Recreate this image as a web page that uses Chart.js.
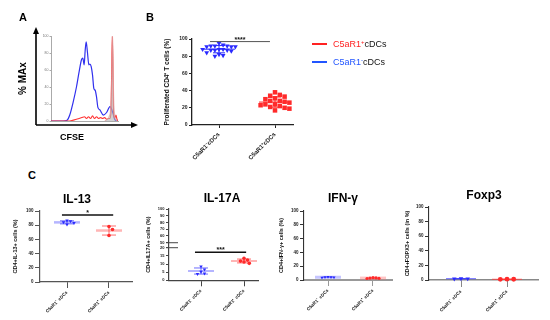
<!DOCTYPE html>
<html>
<head>
<meta charset="utf-8">
<script src="https://cdn.jsdelivr.net/npm/chart.js@4.4.1/dist/chart.umd.min.js"></script>
<style>
html,body{margin:0;padding:0;background:#fff;}
body{position:relative;width:550px;height:320px;overflow:hidden;font-family:"Liberation Sans",Arial,sans-serif;}
canvas{position:absolute;}
.lbl{position:absolute;white-space:nowrap;font-weight:bold;color:#000;transform:translate(-50%,-50%);line-height:1;z-index:5;}
.leg{position:absolute;white-space:nowrap;font-size:9px;color:#111;transform:translateY(-50%);line-height:1;z-index:5;}
.leg sup{font-size:6px;vertical-align:0;position:relative;top:-3px;}
.sw{position:absolute;height:2px;width:15px;z-index:5;}
</style>
</head>
<body>
<div class="lbl" style="left:23px;top:17px;font-size:11px">A</div>
<div class="lbl" style="left:150px;top:17px;font-size:11px">B</div>
<div class="lbl" style="left:32px;top:175px;font-size:11px">C</div>
<div class="lbl" style="left:72px;top:137px;font-size:9px">CFSE</div>
<div class="sw" style="left:312px;top:43px;background:#ff2222"></div>
<div class="leg" style="left:333px;top:44px"><span style="color:#ff2222">C5aR1<sup>+</sup></span>cDCs</div>
<div class="sw" style="left:312px;top:61px;background:#2255ff"></div>
<div class="leg" style="left:333px;top:62px"><span style="color:#2255ff">C5aR1<sup>-</sup></span>cDCs</div>
<div class="lbl" style="left:77px;top:199px;font-size:12px">IL-13</div>
<div class="lbl" style="left:222px;top:198px;font-size:12px">IL-17A</div>
<div class="lbl" style="left:343px;top:198px;font-size:12px">IFN-γ</div>
<div class="lbl" style="left:484px;top:195px;font-size:12px">Foxp3</div>
<script>
// ================= DATA =================
// Panel A: CFSE histograms (% of max)
const cfseBlue = [0,18,24,28,33,38,42,45.5,47.5,49.5,51,52.5,54.5,56.5,58,60,62,64,66,68,70,73,78,83,88,90,92.5,95,98,100];
const pctBlue  = [0,0,1,7,22,40,58,72,74,66,83,93,80,66,67,64,54,38,36,28,16,13,7,10,17,15,9,2,0,0];
const cfseRed  = [0,28,33,38,42,46,50,53,56,59,62,65,68,71,74,77,80,83,86,88,89.5,90.5,91.5,92.3,93,94,95.5,97,98.5,100];
const pctRed   = [0,0,1,2,3,4,5,3,5,3,6,3,5,3,4,3,4,2,3,3,10,55,99,70,20,5,4,7,2,0];
const cfseGray = [80,84,87,89,90.5,91.5,92.5,93.5,95,97,99];
const pctGray  = [0,2,6,15,50,100,85,30,8,2,0];
const histTicks = [0,20,40,60,80,100];

// Panel B: proliferated CD4+ T cells (%)
const groupsB = ['C5aR1⁻cDCs','C5aR1⁺cDCs'];
const prolifNeg = [95,93,92,92,91,91,92,91,88,87,88,87,86,88,87,84,82,80,81];
const prolifPos = [38,31,35,34,33,28,27,30,28,24,26,24,21,22,20,17,19,23];
const ticksB = [0,20,40,60,80,100];

// Panel C
const groupsC = ['C5aR1⁻ cDCs','C5aR1⁺ cDCs'];
const il13Neg = [86.5,85.5,84,83,81];
const il13Pos = [78,74,65.5];
const il17Neg = [8.4,6.7,5.3,3.9,4.2];
const il17Pos = [13.5,12.4,11.8,11.2,10.4];
const ifnNeg  = [4.5,4,3.8,4.2,3.5];
const ifnPos  = [3,2.5,2.2,2.8,3.3];
const foxNeg  = [1.8,1.6,1.9];
const foxPos  = [1.0,0.9,1.1];
const ticksC  = [0,20,40,60,80,100];
const ticksIL17 = [0,5,10,15,20,50,60,70,80,90,100];

// ================= SETUP =================
Chart.defaults.font.family = '"Liberation Sans", Arial, sans-serif';
Chart.defaults.color = '#111';
const BLUE = '#2a2aff', RED = '#ff2a2a';
const common = {responsive:false, animation:false, devicePixelRatio:1, events:[],
  plugins:{legend:{display:false}, tooltip:{enabled:false}, title:{display:false}}};

class BrokenScale extends Chart.LinearScale {
  getPixelForValue(v) {
    if (v === null || v === undefined || isNaN(v)) return NaN;
    const o = this.options.brk;
    let d;
    if (v <= o.lo) d = (v - this.min) / (o.lo - this.min) * o.f1;
    else if (v >= o.hi) d = o.f2 + (v - o.hi) / (this.max - o.hi) * (1 - o.f2);
    else d = o.f1 + (v - o.lo) / (o.hi - o.lo) * (o.f2 - o.f1);
    return this.getPixelForDecimal(d);
  }
  getValueForPixel(p) {
    const d = this.getDecimalForPixel(p), o = this.options.brk;
    if (d <= o.f1) return this.min + d / o.f1 * (o.lo - this.min);
    if (d >= o.f2) return o.hi + (d - o.f2) / (1 - o.f2) * (this.max - o.hi);
    return o.lo + (d - o.f1) / (o.f2 - o.f1) * (o.hi - o.lo);
  }
}
BrokenScale.id = 'broken';
BrokenScale.defaults = {};
Chart.register(BrokenScale);

function addCanvas(b) {
  const c = document.createElement('canvas');
  c.width = b.w; c.height = b.h;
  c.style.left = b.x + 'px'; c.style.top = b.y + 'px';
  c.style.width = b.w + 'px'; c.style.height = b.h + 'px';
  document.body.insertBefore(c, document.body.firstChild);
  return c;
}
const mean = a => a.reduce((s, v) => s + v, 0) / a.length;
const sdev = a => { const m = mean(a); return Math.sqrt(a.reduce((s, v) => s + (v - m) * (v - m), 0) / (a.length - 1)); };

// deterministic beeswarm spread of points around a category
function swarm(vals, cat, pxX, pxY, d) {
  const idx = vals.map((v, i) => i).sort((a, b) => vals[b] - vals[a]);
  const placed = [], out = new Array(vals.length), step = d / 2;
  idx.forEach(i => {
    const yp = vals[i] * pxY;
    let off = 0;
    for (let k = 0; k < 80; k++) {
      const cands = k === 0 ? [0] : [k * step, -k * step];
      let ok = null;
      for (const c of cands) {
        if (placed.every(p => Math.hypot(p.x - c, p.y - yp) >= d * 0.98)) { ok = c; break; }
      }
      if (ok !== null) { off = ok; break; }
    }
    placed.push({x: off, y: yp});
    out[i] = {x: cat + off / pxX, y: vals[i]};
  });
  return out;
}

function dotChart(c) {
  const b = c.box, a = c.area;
  const cv = addCanvas(b);
  const pxX = a.c1 - a.c0;
  const xMin = -(a.c0 - a.l) / pxX, xMax = 1 + (a.r - a.c1) / pxX;
  const datasets = c.groups.map((g, i) => ({
    data: swarm(g.values, i, pxX, c.pxY, g.spacing || c.spacing),
    showLine: false, clip: false,
    pointStyle: g.shape, pointRotation: g.rot || 0, pointRadius: g.radius,
    pointBackgroundColor: g.color, pointBorderColor: g.color, pointBorderWidth: 0
  }));
  const extras = {
    id: 'extras',
    beforeDatasetsDraw(ch) {
      const ctx = ch.ctx, xs = ch.scales.x, ys = ch.scales.y;
      c.groups.forEach((g, i) => {
        const m = mean(g.values), s = sdev(g.values);
        const cx = xs.getPixelForValue(i), my = ys.getPixelForValue(m);
        ctx.save();
        ctx.strokeStyle = g.meanColor; ctx.lineWidth = c.meanLW;
        ctx.beginPath(); ctx.moveTo(cx - c.meanHalf, my); ctx.lineTo(cx + c.meanHalf, my); ctx.stroke();
        const y1 = ys.getPixelForValue(m + s), y2 = ys.getPixelForValue(Math.max(m - s, 0));
        ctx.strokeStyle = g.barColor; ctx.lineWidth = c.barLW;
        ctx.beginPath();
        ctx.moveTo(cx, y1); ctx.lineTo(cx, y2);
        ctx.moveTo(cx - c.capHalf, y1); ctx.lineTo(cx + c.capHalf, y1);
        ctx.moveTo(cx - c.capHalf, y2); ctx.lineTo(cx + c.capHalf, y2);
        ctx.stroke();
        ctx.restore();
      });
    },
    afterDraw(ch) {
      const ctx = ch.ctx, xs = ch.scales.x, ys = ch.scales.y;
      if (c.sig) {
        const s = c.sig, x1 = xs.getPixelForValue(s.from), x2 = xs.getPixelForValue(s.to), y = ys.getPixelForValue(s.y);
        ctx.save(); ctx.strokeStyle = s.color; ctx.lineWidth = s.lw;
        ctx.beginPath(); ctx.moveTo(x1, y); ctx.lineTo(x2, y); ctx.stroke();
        ctx.fillStyle = '#111'; ctx.font = 'bold ' + s.fs + 'px "Liberation Sans", Arial';
        ctx.textAlign = 'center'; ctx.textBaseline = 'alphabetic';
        ctx.fillText(s.text, (x1 + x2) / 2, y + s.dy);
        ctx.restore();
      }
      if (c.breaks) {
        ctx.save(); ctx.strokeStyle = c.axisColor; ctx.lineWidth = 1;
        c.breaks.forEach(v => {
          const y = ys.getPixelForValue(v);
          ctx.beginPath(); ctx.moveTo(ch.chartArea.left - 3, y); ctx.lineTo(ch.chartArea.left + 9, y); ctx.stroke();
        });
        ctx.restore();
      }
    }
  };
  return new Chart(cv, {
    type: 'scatter',
    data: {datasets},
    options: Object.assign({}, common, {
      layout: {padding: {left: 0, top: a.t - b.y, right: b.x + b.w - a.r, bottom: 0}},
      scales: {
        x: {
          type: 'linear', min: xMin, max: xMax,
          afterBuildTicks: s => { s.ticks = [{value: 0}, {value: 1}]; },
          afterFit: s => { s.height = b.y + b.h - a.b; },
          ticks: {font: {size: c.xFs, weight: 'bold'}, minRotation: 45, maxRotation: 45, autoSkip: false,
                  padding: c.xTickPad, color: '#222', callback: v => (c.labels[v] !== undefined ? c.labels[v] : '')},
          grid: {display: true, drawOnChartArea: false, drawTicks: true, tickLength: c.xTickLen, color: c.xAxisColor, lineWidth: 1},
          border: {display: true, color: c.xAxisColor, width: c.xAxisW}
        },
        y: {
          type: c.yType || 'linear', min: 0, max: 100, brk: c.brk,
          afterBuildTicks: s => { s.ticks = c.yTicks.map(v => ({value: v})); },
          afterFit: s => { s.width = a.l - b.x; },
          ticks: {font: {size: c.tickFs, weight: 'bold'}, padding: c.yTickPad, color: '#222', autoSkip: false, callback: v => String(v)},
          grid: {display: true, drawOnChartArea: false, drawTicks: true, tickLength: c.yTickLen, color: c.axisColor, lineWidth: 1},
          border: {display: true, color: c.axisColor, width: c.axisW},
          title: {display: true, text: c.yTitle, color: '#111', font: {size: c.yTitleFs, weight: 'bold'},
                  padding: {top: c.yTitleX - b.x - c.yTitleFs * 0.6, bottom: 0}}
        }
      }
    }),
    plugins: [extras]
  });
}

// ================= PANEL A =================
(function () {
  const b = {x: 0, y: 0, w: 150, h: 135}, a = {l: 51, t: 36, r: 118, b: 121};
  const cv = addCanvas(b);
  const pts = (xs, ys) => xs.map((x, i) => ({x, y: ys[i]}));
  new Chart(cv, {
    type: 'line',
    data: {datasets: [
      {data: pts(cfseGray, pctGray), borderColor: 'rgba(230,150,150,0.9)', backgroundColor: 'rgba(180,180,180,0.6)', fill: 'origin', borderWidth: 0.8, pointRadius: 0, cubicInterpolationMode: 'monotone'},
      {data: pts(cfseRed, pctRed), borderColor: '#ff3333', borderWidth: 1.1, pointRadius: 0, fill: false, cubicInterpolationMode: 'monotone'},
      {data: pts(cfseBlue, pctBlue), borderColor: '#3030ee', borderWidth: 1.2, pointRadius: 0, fill: false, cubicInterpolationMode: 'monotone'}
    ]},
    options: Object.assign({}, common, {
      layout: {padding: {left: 0, top: a.t - b.y, right: b.x + b.w - a.r, bottom: 0}},
      scales: {
        x: {type: 'linear', min: 0, max: 100, afterFit: s => { s.height = b.y + b.h - a.b; },
            ticks: {display: false}, grid: {display: false}, border: {display: true, color: '#aaa', width: 1, dash: [1.5, 1.5]}},
        y: {min: 0, max: 100, afterBuildTicks: s => { s.ticks = histTicks.map(v => ({value: v})); },
            afterFit: s => { s.width = a.l - b.x; },
            ticks: {font: {size: 3.5}, color: '#777', padding: 1, autoSkip: false, callback: v => String(v)},
            grid: {display: true, drawOnChartArea: false, drawTicks: true, tickLength: 1.5, color: '#aaa'},
            border: {display: true, color: '#aaa', width: 1, dash: [1.5, 1.5]},
            title: {display: true, text: '% MAx', color: '#000', font: {size: 10, weight: 'bold'}, padding: {top: 23 - 6, bottom: 0}}}
      }
    }),
    plugins: [{
      id: 'arrows',
      afterDraw(ch) {
        const ctx = ch.ctx, ca = ch.chartArea;
        const ox = ca.left - 15, oy = ca.bottom + 4, ty = ca.top - 9, rx = ca.right + 20;
        ctx.save(); ctx.strokeStyle = '#000'; ctx.fillStyle = '#000'; ctx.lineWidth = 1.6;
        ctx.beginPath(); ctx.moveTo(ox, oy); ctx.lineTo(ox, ty + 6); ctx.moveTo(ox, oy); ctx.lineTo(rx - 6, oy); ctx.stroke();
        ctx.beginPath(); ctx.moveTo(ox, ty); ctx.lineTo(ox - 3, ty + 7); ctx.lineTo(ox + 3, ty + 7); ctx.closePath(); ctx.fill();
        ctx.beginPath(); ctx.moveTo(rx, oy); ctx.lineTo(rx - 7, oy - 3); ctx.lineTo(rx - 7, oy + 3); ctx.closePath(); ctx.fill();
        ctx.restore();
      }
    }]
  });
})();

// ================= PANEL B =================
dotChart({
  box: {x: 150, y: 25, w: 150, h: 140}, area: {l: 192, t: 39, r: 293, b: 125, c0: 219, c1: 275},
  groups: [
    {values: prolifNeg, color: BLUE, shape: 'triangle', rot: 180, radius: 2.8, spacing: 4.1, meanColor: BLUE, barColor: BLUE},
    {values: prolifPos, color: RED, shape: 'rect', radius: 3.2, spacing: 4.8, meanColor: RED, barColor: RED}
  ],
  pxY: 0.86, spacing: 4.8, meanHalf: 16, meanLW: 1, barLW: 1, capHalf: 6,
  yTicks: ticksB, tickFs: 5, yTickPad: 1.5, yTickLen: 3, axisColor: '#222', axisW: 1.3,
  yTitle: 'Proliferated CD4⁺ T cells (%)', yTitleFs: 6.5, yTitleX: 167,
  labels: groupsB, xFs: 6, xTickPad: 3, xTickLen: 3, xAxisColor: '#222', xAxisW: 1.3,
  sig: {from: -0.16, to: 0.91, y: 97, text: '****', fs: 7, lw: 1, color: '#555', dy: 0}
});

// ================= PANEL C =================
const lightB = 'rgba(90,90,255,0.45)', barB = 'rgba(60,60,255,0.75)';
const lightR = 'rgba(255,90,90,0.45)', barR = 'rgba(255,60,60,0.75)';

dotChart({
  box: {x: 5, y: 195, w: 135, h: 125}, area: {l: 40, t: 211, r: 132, b: 282, c0: 67, c1: 109},
  groups: [
    {values: il13Neg, color: BLUE, shape: 'triangle', rot: 180, radius: 2, meanColor: lightB, barColor: barB},
    {values: il13Pos, color: RED, shape: 'circle', radius: 1.8, meanColor: lightR, barColor: barR}
  ],
  pxY: 0.71, spacing: 3.5, meanHalf: 13, meanLW: 2.5, barLW: 1, capHalf: 7,
  yTicks: ticksC, tickFs: 4.5, yTickPad: 1.5, yTickLen: 5, axisColor: '#555', axisW: 1.2,
  yTitle: 'CD4+IL-13+ cells (%)', yTitleFs: 5.5, yTitleX: 15,
  labels: groupsC, xFs: 4.5, xTickPad: 2, xTickLen: 6, xAxisColor: '#555', xAxisW: 1.2,
  sig: {from: -0.12, to: 1.1, y: 94.3, text: '*', fs: 7, lw: 1.5, color: '#111', dy: 0}
});

dotChart({
  box: {x: 140, y: 195, w: 125, h: 125}, area: {l: 169, t: 209, r: 258, b: 280.3, c0: 201, c1: 244},
  yType: 'broken', brk: {lo: 20, hi: 50, f1: 0.457, f2: 0.527},
  groups: [
    {values: il17Neg, color: BLUE, shape: 'triangle', rot: 180, radius: 2, meanColor: lightB, barColor: barB},
    {values: il17Pos, color: RED, shape: 'circle', radius: 1.8, meanColor: lightR, barColor: barR}
  ],
  pxY: 1.63, spacing: 3.5, meanHalf: 13, meanLW: 2, barLW: 1, capHalf: 7,
  yTicks: ticksIL17, tickFs: 4, yTickPad: 1.5, yTickLen: 3, axisColor: '#444', axisW: 1.2,
  yTitle: 'CD4+IL17A+ cells (%)', yTitleFs: 5.5, yTitleX: 148,
  labels: groupsC, xFs: 4.5, xTickPad: 2, xTickLen: 6, xAxisColor: '#444', xAxisW: 1.2,
  sig: {from: -0.14, to: 1.05, y: 17.2, text: '***', fs: 7, lw: 1.5, color: '#111', dy: 0},
  breaks: [20, 50]
});

dotChart({
  box: {x: 272, y: 195, w: 125, h: 125}, area: {l: 304, t: 211, r: 392, b: 280, c0: 328, c1: 373},
  groups: [
    {values: ifnNeg, color: BLUE, shape: 'triangle', rot: 180, radius: 1.8, meanColor: 'rgba(110,110,255,0.4)', barColor: lightB},
    {values: ifnPos, color: RED, shape: 'circle', radius: 1.6, meanColor: 'rgba(255,110,110,0.4)', barColor: lightR}
  ],
  pxY: 0.69, spacing: 3, meanHalf: 13, meanLW: 3, barLW: 1, capHalf: 6,
  yTicks: ticksC, tickFs: 4.5, yTickPad: 1.5, yTickLen: 4, axisColor: '#333', axisW: 1.1,
  yTitle: 'CD4+IFN-γ+ cells (%)', yTitleFs: 5.5, yTitleX: 281,
  labels: groupsC, xFs: 4.5, xTickPad: 2, xTickLen: 6, xAxisColor: '#999', xAxisW: 2
});

dotChart({
  box: {x: 400, y: 195, w: 150, h: 125}, area: {l: 429, t: 207, r: 538, b: 280, c0: 461, c1: 507},
  groups: [
    {values: foxNeg, color: BLUE, shape: 'triangle', rot: 180, radius: 2.6, meanColor: 'rgba(60,60,255,0.8)', barColor: 'rgba(60,60,255,0.8)'},
    {values: foxPos, color: RED, shape: 'circle', radius: 2.4, meanColor: 'rgba(255,60,60,0.8)', barColor: 'rgba(255,60,60,0.8)'}
  ],
  pxY: 2.18, spacing: 6.7, meanHalf: 15, meanLW: 1, barLW: 1, capHalf: 5,
  yTicks: ticksC, tickFs: 4.5, yTickPad: 1.5, yTickLen: 4, axisColor: '#333', axisW: 1.1,
  yTitle: 'CD4+FOPX3+ cells (in %)', yTitleFs: 5.5, yTitleX: 407,
  labels: groupsC, xFs: 4.5, xTickPad: 2, xTickLen: 7, xAxisColor: '#888', xAxisW: 1.5
});
</script>
</body>
</html>
